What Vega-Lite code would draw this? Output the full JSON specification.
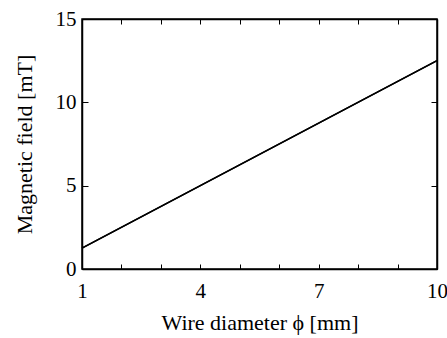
{
  "$schema": "https://vega.github.io/schema/vega-lite/v6.json",
  "autosize": {"type": "none"},
  "width": 355,
  "height": 250,
  "padding": {"left": 82, "top": 19, "right": 10, "bottom": 69},
  "background": "white",
  "config": {
    "view": {"stroke": "black", "strokeWidth": 1.5},
    "font": "Liberation Serif",
    "axis": {
      "domainColor": "black",
      "domainWidth": 1.5,
      "tickColor": "black",
      "tickWidth": 1,
      "grid": false,
      "labelColor": "black",
      "titleColor": "black",
      "labelFont": "Liberation Serif",
      "titleFont": "Liberation Serif",
      "labelFontSize": 21,
      "titleFontSize": 22,
      "titleFontWeight": "normal"
    }
  },
  "data": {
    "values": [
      {"d": 1, "b": 1.25},
      {"d": 4, "b": 5},
      {"d": 7, "b": 8.75},
      {"d": 10, "b": 12.5}
    ]
  },
  "layer": [
    {
      "mark": {"type": "line", "color": "black", "strokeWidth": 1.6},
      "encoding": {
        "x": {
          "field": "d", "type": "quantitative",
          "scale": {"domain": [1, 10], "nice": false, "zero": false},
          "axis": {
            "orient": "bottom",
            "title": "Wire diameter ϕ [mm]",
            "values": [1, 2, 3, 4, 5, 6, 7, 8, 9, 10],
            "labelExpr": "(datum.value == 1 || datum.value == 4 || datum.value == 7 || datum.value == 10) ? datum.label : ''",
            "tickSize": -5,
            "labelPadding": 16,
            "titlePadding": 11,
            "labelFlush": false
          }
        },
        "y": {
          "field": "b", "type": "quantitative",
          "scale": {"domain": [0, 15], "nice": false},
          "axis": {
            "orient": "left",
            "title": "Magnetic field [mT]",
            "values": [0, 5, 10, 15],
            "tickSize": -6,
            "labelPadding": 12,
            "titlePadding": 19,
            "labelFlush": false
          }
        }
      }
    },
    {
      "mark": {"type": "line", "color": "black", "strokeWidth": 1.6},
      "encoding": {
        "x": {
          "field": "d", "type": "quantitative",
          "scale": {"domain": [1, 10], "nice": false, "zero": false},
          "axis": {
            "orient": "top",
            "title": null,
            "values": [1, 2, 3, 4, 5, 6, 7, 8, 9, 10],
            "labels": false,
            "tickSize": -5
          }
        },
        "y": {
          "field": "b", "type": "quantitative",
          "scale": {"domain": [0, 15], "nice": false},
          "axis": {
            "orient": "right",
            "title": null,
            "values": [0, 5, 10, 15],
            "labels": false,
            "tickSize": -6
          }
        }
      }
    }
  ],
  "resolve": {"axis": {"x": "independent", "y": "independent"}}
}
